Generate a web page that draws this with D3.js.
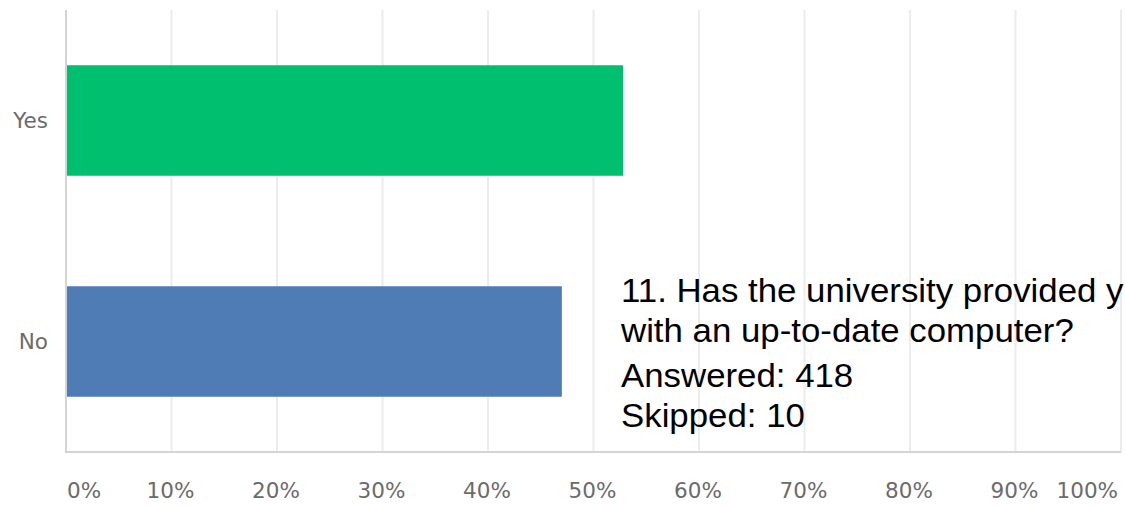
<!DOCTYPE html>
<html>
<head>
<meta charset="utf-8">
<script src="https://cdn.jsdelivr.net/npm/d3@7"></script>
<style>
  html, body { margin: 0; padding: 0; background: #fff; overflow: hidden; }
  svg { display: block; }
</style>
</head>
<body>
<svg id="chart" width="1126" height="506"></svg>
<script>
// Survey answers and their share of respondents (%)
const answers = ["Yes", "No"];
const shares = [52.8, 47.0];
const barColors = ["#00bf6f", "#507cb6"];
const tickValues = [0, 10, 20, 30, 40, 50, 60, 70, 80, 90, 100];
const tickLabels = ["0%", "10%", "20%", "30%", "40%", "50%", "60%", "70%", "80%", "90%", "100%"];
const noteLines = [
  "11. Has the university provided y",
  "with an up-to-date computer?",
  "Answered: 418",
  "Skipped: 10"
];
const noteBaselines = [302, 342, 387, 427];

const svg = d3.select("#chart");
const margin = { top: 10, left: 66, right: 5, bottom: 54 };
const W = 1126, H = 506;

const x = d3.scaleLinear().domain([0, 100]).range([margin.left, W - margin.right]);
const y = d3.scaleBand().domain(answers).range([margin.top, H - margin.bottom])
  .paddingInner(0.5).paddingOuter(0.25);

// vertical gridlines
svg.append("g").selectAll("line").data(tickValues.slice(1)).join("line")
  .attr("x1", d => x(d)).attr("x2", d => x(d))
  .attr("y1", margin.top).attr("y2", H - margin.bottom)
  .attr("stroke", "#ececec").attr("stroke-width", 2);

// bars
svg.append("g").selectAll("rect").data(answers).join("rect")
  .attr("x", x(0))
  .attr("y", d => y(d))
  .attr("width", (d, i) => x(shares[i]) - x(0))
  .attr("height", y.bandwidth())
  .attr("fill", (d, i) => barColors[i]);

// axis lines
svg.append("line")
  .attr("x1", x(0)).attr("x2", x(0))
  .attr("y1", margin.top).attr("y2", H - margin.bottom + 1)
  .attr("stroke", "#d4d4d4").attr("stroke-width", 2);
svg.append("line")
  .attr("x1", x(0)).attr("x2", x(100))
  .attr("y1", H - margin.bottom).attr("y2", H - margin.bottom)
  .attr("stroke", "#d4d4d4").attr("stroke-width", 2);

// x tick labels
const last = tickValues.length - 1;
svg.append("g").selectAll("text").data(tickValues).join("text")
  .attr("x", (d, i) => i === 0 ? x(d) + 1 : (i === last ? x(d) - 3 : x(d) - 1))
  .attr("y", 498)
  .attr("text-anchor", (d, i) => i === 0 ? "start" : (i === last ? "end" : "middle"))
  .attr("font-family", "'DejaVu Sans', Verdana, sans-serif")
  .attr("font-size", 21.5)
  .attr("fill", "#6b6b6b")
  .text((d, i) => tickLabels[i]);

// category labels
svg.append("g").selectAll("text").data(answers).join("text")
  .attr("x", 48)
  .attr("y", d => y(d) + y.bandwidth() / 2 + 7.5)
  .attr("text-anchor", "end")
  .attr("font-family", "'DejaVu Sans', Verdana, sans-serif")
  .attr("font-size", 21.5)
  .attr("fill", "#6b6b6b")
  .text(d => d);

// question note, slightly widened
svg.append("g")
  .attr("transform", "translate(621,0) scale(1.024,1)")
  .selectAll("text").data(noteLines).join("text")
  .attr("x", 0)
  .attr("y", (d, i) => noteBaselines[i])
  .attr("font-family", "'Liberation Sans', Arial, sans-serif")
  .attr("font-size", 34)
  .attr("fill", "#000")
  .text(d => d);
</script>
</body>
</html>
